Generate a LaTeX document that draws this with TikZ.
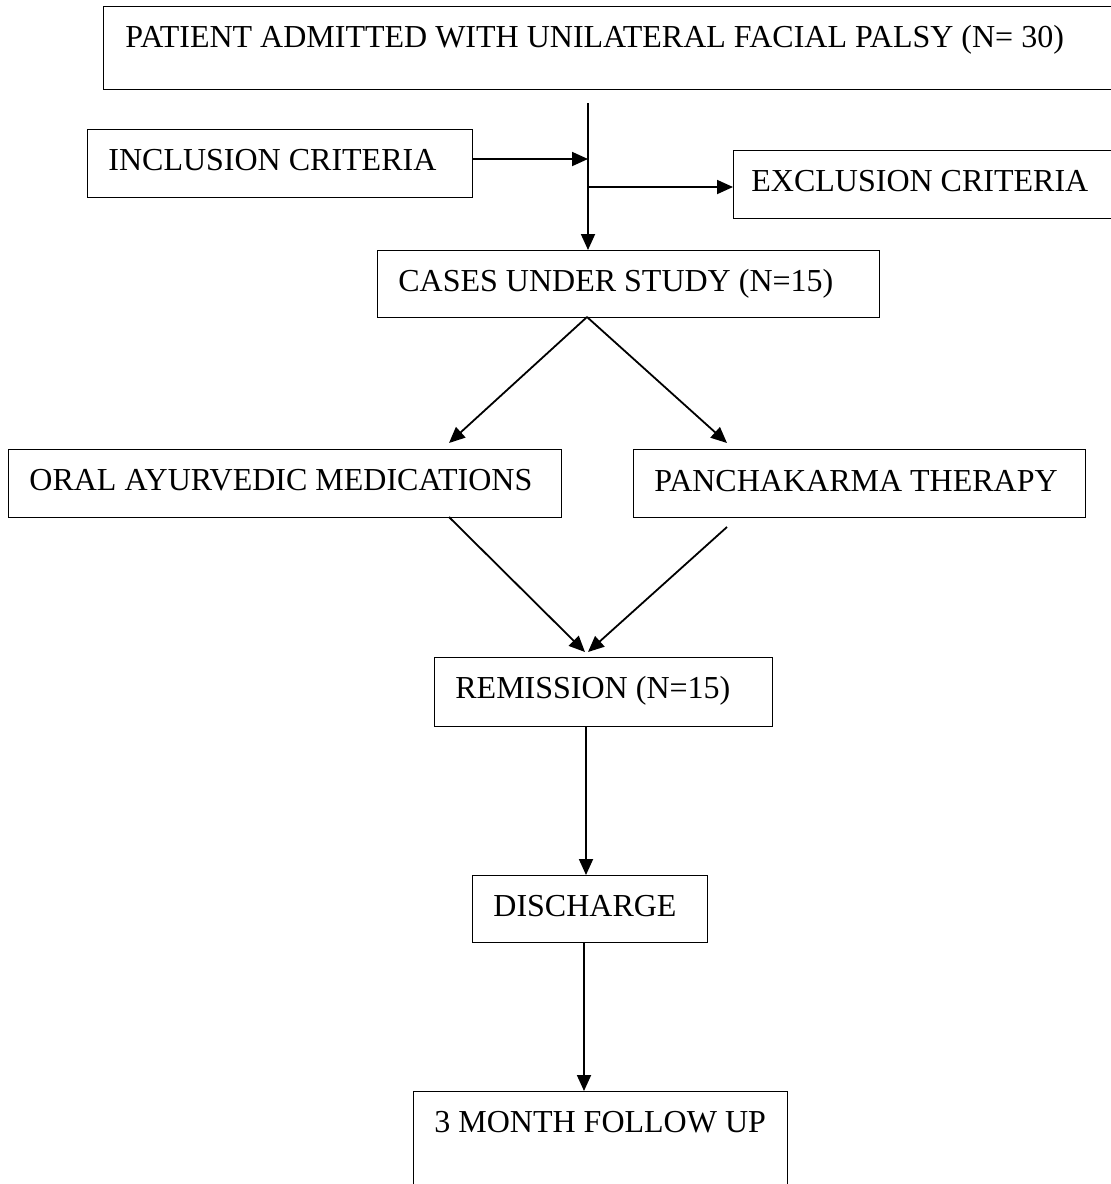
\documentclass[tikz,border=0pt]{standalone}
\usepackage{fontspec}
\setmainfont{Liberation Serif}
\usetikzlibrary{arrows.meta}
\begin{document}
\begin{tikzpicture}[x=0.5pt,y=-0.5pt,
  box/.style={draw=black,line width=0.6pt,rectangle,inner sep=0pt,anchor=north west},
  txt/.style={inner sep=0pt,anchor=base west,font=\fontsize{16}{19}\selectfont},
  conn/.style={line width=0.9pt,-{Triangle[length=8pt,width=7pt]}},
  plainline/.style={line width=0.9pt}]
\useasboundingbox (0,0) rectangle (1110,1184);
% boxes
\node[box,minimum width=506pt,minimum height=41.5pt] (top) at (103,6) {};
\node[box,minimum width=192.5pt,minimum height=34pt] (inc) at (87,129) {};
\node[box,minimum width=191pt,minimum height=34pt] (exc) at (733,150) {};
\node[box,minimum width=251pt,minimum height=33.5pt] (cases) at (377,250) {};
\node[box,minimum width=276.5pt,minimum height=34pt] (oral) at (8,449) {};
\node[box,minimum width=226pt,minimum height=34pt] (pk) at (633,449) {};
\node[box,minimum width=169pt,minimum height=34.5pt] (rem) at (434,657) {};
\node[box,minimum width=117.5pt,minimum height=33.5pt] (dis) at (472,875) {};
\node[box,minimum width=187pt,minimum height=52pt] (fol) at (413,1091) {};
% texts
\node[txt] (ttop) at (125,47) {PATIENT ADMITTED WITH UNILATERAL FACIAL PALSY (N= 30)};
\node[txt] (tinc) at (108,170) {INCLUSION CRITERIA};
\node[txt] (texc) at (751,191) {EXCLUSION CRITERIA};
\node[txt] (tcases) at (398,291) {CASES UNDER STUDY (N=15)};
\node[txt] (toral) at (29,490) {ORAL AYURVEDIC MEDICATIONS};
\node[txt] (tpk) at (654,491) {PANCHAKARMA THERAPY};
\node[txt] (trem) at (455,698) {REMISSION (N=15)};
\node[txt] (tdis) at (493,916) {DISCHARGE};
\node[txt] (tfol) at (434,1132) {3 MONTH FOLLOW UP};
% coordinates
\coordinate (trunk) at (588,103);
\coordinate (j1) at (588,159);
\coordinate (j2) at (588,187);
\coordinate (split) at (587,317);
\coordinate (oraltip) at (449,443);
\coordinate (pktip) at (727,443);
\coordinate (oralout) at (449,517);
\coordinate (pkout) at (727,527);
\coordinate (remtipL) at (585,652);
\coordinate (remtipR) at (588,652);
\coordinate (v1) at (586,0);
\coordinate (v2) at (584,0);
% connectors
\draw[conn] (trunk) -- (trunk |- cases.north);
\draw[conn] (inc.east |- j1) -- (j1);
\draw[conn] (j2) -- (j2 -| exc.west);
\draw[conn] (split) -- (oraltip);
\draw[conn] (split) -- (pktip);
\draw[conn] (oralout) -- (remtipL);
\draw[conn] (pkout) -- (remtipR);
\draw[conn] (v1 |- rem.south) -- (v1 |- dis.north);
\draw[conn] (v2 |- dis.south) -- (v2 |- fol.north);
\end{tikzpicture}
\end{document}
